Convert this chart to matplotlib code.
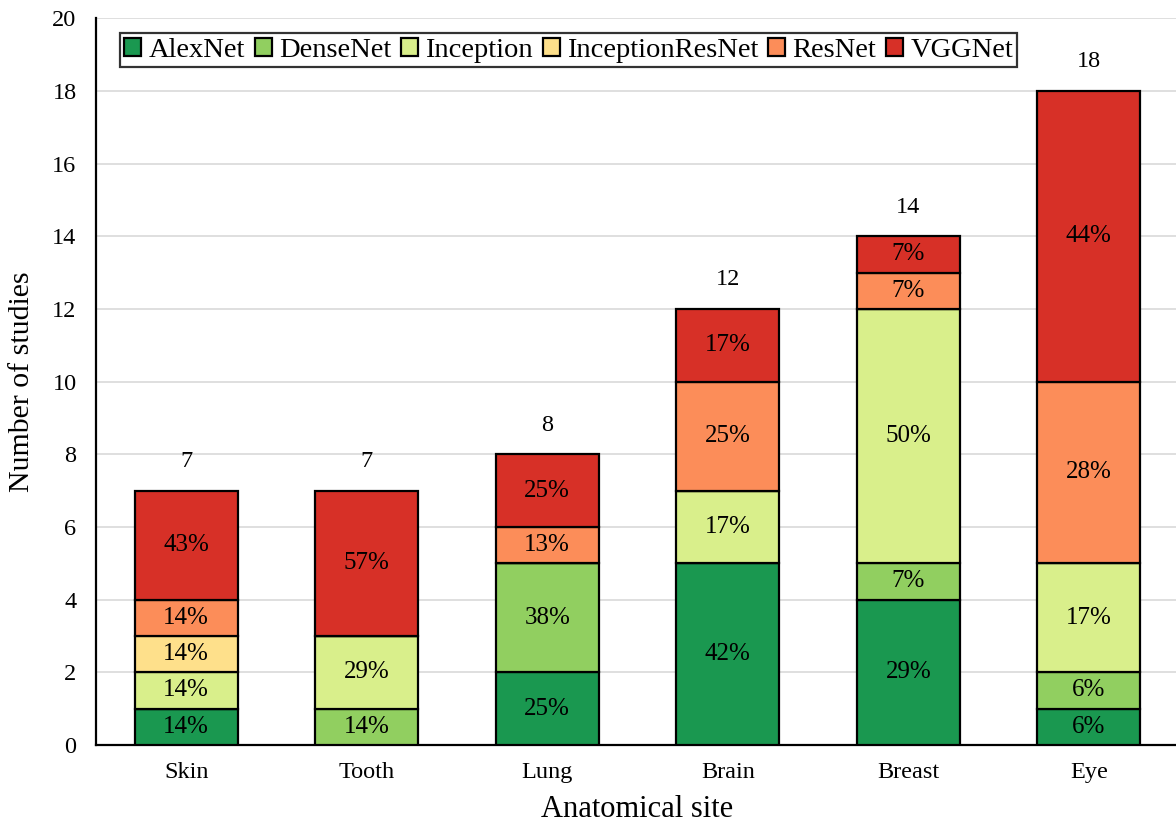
import numpy as np
import matplotlib
matplotlib.use('Agg')
import matplotlib.pyplot as plt

plt.rcParams['font.family'] = ['Liberation Serif', 'DejaVu Serif']

SITES = ['Skin', 'Tooth', 'Lung', 'Brain', 'Breast', 'Eye']
MODELS = ['AlexNet', 'DenseNet', 'Inception', 'InceptionResNet', 'ResNet', 'VGGNet']
COLORS = ['#1a9850', '#91cf60', '#d9ef8b', '#fee08b', '#fc8d59', '#d73027']

alexnet = [1, 0, 2, 5, 4, 1]
densenet = [0, 1, 3, 0, 1, 1]
inception = [1, 2, 0, 2, 7, 3]
inceptionresnet = [1, 0, 0, 0, 0, 0]
resnet = [1, 0, 1, 3, 1, 5]
vggnet = [3, 4, 2, 2, 1, 8]

counts = np.array([alexnet, densenet, inception, inceptionresnet, resnet, vggnet], dtype=float)
totals = counts.sum(axis=0)

fig = plt.figure(figsize=(11.76, 8.27), dpi=100)
ax = fig.add_axes([0.0816, 0.0992, 0.9210, 0.8788])

x = np.arange(len(SITES))
width = 0.57
bottom = np.zeros(len(SITES))
for i, name in enumerate(MODELS):
    vals = counts[i]
    ax.bar(x, vals, width, bottom=bottom, color=COLORS[i], edgecolor='black',
           linewidth=1.6, label=name, zorder=3)
    for j in range(len(SITES)):
        if vals[j] > 0:
            pct = int(vals[j] / totals[j] * 100 + 0.5)
            ax.text(x[j], bottom[j] + vals[j] / 2, '%d%%' % pct, ha='center',
                    va='center', fontsize=18, zorder=4)
    bottom += vals

for j in range(len(SITES)):
    ax.text(x[j], totals[j] + 0.8, '%d' % totals[j], ha='center', va='center', fontsize=17.5)

ax.set_xlim(-0.5, 5.5)
ax.set_ylim(0, 20)
ax.set_yticks(np.arange(0, 21, 2))
ax.set_xticks(x)
ax.set_xticklabels(SITES)
ax.tick_params(axis='both', length=0, labelsize=17.5)
ax.tick_params(axis='x', pad=12)
ax.tick_params(axis='y', pad=14)
ax.yaxis.grid(True, color='#d9d9d9', linewidth=1.2, zorder=0)
ax.set_axisbelow(True)
for s in ['top', 'right']:
    ax.spines[s].set_visible(False)
for s in ['left', 'bottom']:
    ax.spines[s].set_linewidth(1.6)

ax.set_xlabel('Anatomical site', fontsize=22, labelpad=9)
ax.set_ylabel('Number of studies', fontsize=21.5, labelpad=12)

leg = ax.legend(loc='upper left', ncol=6, fontsize=20.5, frameon=True, fancybox=False,
                handlelength=0.6, handleheight=0.6, handletextpad=0.25, columnspacing=0.35,
                borderpad=0.15, bbox_to_anchor=(0.022, 0.979), borderaxespad=0)
leg.get_frame().set_edgecolor('black')
leg.get_frame().set_linewidth(1.6)

fig.savefig('out.png', dpi=100)
